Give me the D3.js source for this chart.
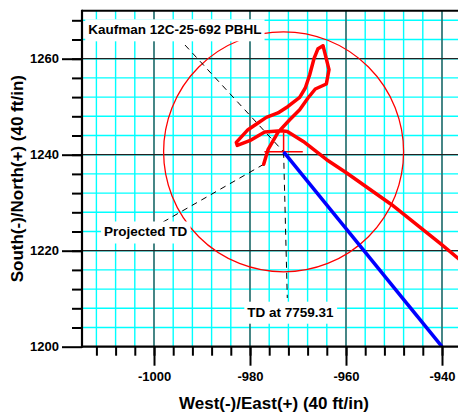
<!DOCTYPE html>
<html>
<head>
<meta charset="utf-8">
<script src="https://cdn.jsdelivr.net/npm/d3@7"></script>
<style>
  body { margin: 0; background: #fff; }
  svg { display: block; font-family: "Liberation Sans", Arial, sans-serif; font-weight: bold; }
</style>
</head>
<body>
<svg id="chart" width="458" height="415"></svg>
<script>
// 軸
var xMajorTicks = [-1000, -980, -960, -940];
var yMajorTicks = [1200, 1220, 1240, 1260];
var xTitle = "West(-)/East(+) (40 ft/in)";
var yTitle = "South(-)/North(+) (40 ft/in)";

// 実績 (赤)
var wellX = [-977.15, -976.25, -974.17, -971.73, -969.65, -967.92, -966.40, -964.10, -963.54, -964.79,
             -965.83, -966.67, -967.56, -968.48, -969.65, -972.08, -974.17, -976.60, -978.33, -980.42,
             -982.85, -982.65, -980.06, -976.94, -973.48, -972.23, -968.90, -964.02, -959.85, -950.48,
             -940.06, -935.80];
var wellY = [1238.00, 1241.04, 1244.65, 1247.29, 1249.38, 1251.81, 1253.69, 1254.73, 1257.71, 1262.71,
             1262.08, 1260.00, 1256.67, 1253.90, 1251.94, 1250.06, 1248.69, 1247.77, 1246.60, 1245.21,
             1242.56, 1241.94, 1242.92, 1244.73, 1245.00, 1244.85, 1242.77, 1238.96, 1236.19, 1229.58,
             1221.25, 1217.70];

// 計画 (青)
var planX = [-973.0, -940.0];
var planY = [1240.6, 1200.0];

// TD / PBHL
var tdPoint = [-973.0, 1240.6];
var pbhlRadius = 25;
var crossSize = 4;

// ラベル
var labelTexts = ["Kaufman 12C-25-692 PBHL", "Projected TD", "TD at 7759.31"];
var labelX = [-1013.7, -1010.4, -980.56];
var labelY = [1265.08, 1222.96, 1206.25];

// 引出線
var leaderX1 = [-993.54, -998.10, -973.0];
var leaderY1 = [1262.85, 1225.98, 1240.6];
var leaderX2 = [-973.0, -977.15, -972.23];
var leaderY2 = [1240.6, 1238.00, 1210.15];

var svg = d3.select("#chart");
var plotLeft = 82, plotTop = 10.7, plotBottom = 346.7, plotRight = 466;

var x = d3.scaleLinear().domain([-1015, -935]).range([plotLeft, plotRight]);
var y = d3.scaleLinear().domain([1200, 1270]).range([plotBottom, plotTop]);

var fmt = function(d){ return String(d); };

svg.append("defs").append("clipPath").attr("id", "plot-clip")
  .append("rect")
  .attr("x", plotLeft).attr("y", plotTop)
  .attr("width", plotRight - plotLeft).attr("height", plotBottom - plotTop);

var plot = svg.append("g").attr("clip-path", "url(#plot-clip)");

// グリッド
var xMinor = d3.range(-1012, -935, 4);
var yMinor = d3.range(1204, 1270, 4);

plot.selectAll(".vminor").data(xMinor).enter().append("line")
  .attr("x1", function(d){ return x(d); }).attr("x2", function(d){ return x(d); })
  .attr("y1", plotTop).attr("y2", plotBottom)
  .attr("stroke", "#00ffff").attr("stroke-width", 1.4);

plot.selectAll(".hminor").data(yMinor).enter().append("line")
  .attr("y1", function(d){ return y(d); }).attr("y2", function(d){ return y(d); })
  .attr("x1", plotLeft).attr("x2", plotRight)
  .attr("stroke", "#00ffff").attr("stroke-width", 1.4);

plot.selectAll(".vmajor").data(xMajorTicks).enter().append("line")
  .attr("x1", function(d){ return x(d); }).attr("x2", function(d){ return x(d); })
  .attr("y1", plotTop).attr("y2", plotBottom)
  .attr("stroke", "#444").attr("stroke-width", 1.3);

plot.selectAll(".hmajor").data(yMajorTicks).enter().append("line")
  .attr("y1", function(d){ return y(d); }).attr("y2", function(d){ return y(d); })
  .attr("x1", plotLeft).attr("x2", plotRight)
  .attr("stroke", "#222").attr("stroke-width", 1.3);

// PBHL 円
plot.append("ellipse")
  .attr("cx", x(tdPoint[0])).attr("cy", y(tdPoint[1]))
  .attr("rx", x(tdPoint[0] + pbhlRadius) - x(tdPoint[0]))
  .attr("ry", y(tdPoint[1]) - y(tdPoint[1] + pbhlRadius))
  .attr("fill", "none").attr("stroke", "#ff0000").attr("stroke-width", 1.3);

// 引出線
plot.selectAll(".leader").data(leaderX1).enter().append("line")
  .attr("x1", function(d){ return x(d); })
  .attr("y1", function(d, i){ return y(leaderY1[i]); })
  .attr("x2", function(d, i){ return x(leaderX2[i]); })
  .attr("y2", function(d, i){ return y(leaderY2[i]); })
  .attr("stroke", "#000").attr("stroke-width", 1)
  .attr("stroke-dasharray", "6 5");

// TD 十字
plot.append("line")
  .attr("x1", x(tdPoint[0] - crossSize)).attr("x2", x(tdPoint[0] + crossSize))
  .attr("y1", y(tdPoint[1])).attr("y2", y(tdPoint[1]))
  .attr("stroke", "#ff0000").attr("stroke-width", 1.5);
plot.append("line")
  .attr("x1", x(tdPoint[0])).attr("x2", x(tdPoint[0]))
  .attr("y1", y(tdPoint[1])).attr("y2", y(tdPoint[1] + crossSize))
  .attr("stroke", "#ff0000").attr("stroke-width", 1.5);

var line = d3.line()
  .x(function(d){ return x(d[0]); })
  .y(function(d){ return y(d[1]); });

plot.append("path")
  .attr("d", line(planX.map(function(v, i){ return [v, planY[i]]; })))
  .attr("fill", "none").attr("stroke", "#0000ff").attr("stroke-width", 3.5);

plot.append("path")
  .attr("d", line(wellX.map(function(v, i){ return [v, wellY[i]]; })))
  .attr("fill", "none").attr("stroke", "#ff0000").attr("stroke-width", 3.5)
  .attr("stroke-linejoin", "round").attr("stroke-linecap", "round");

// ラベル (白背景)
labelTexts.forEach(function(t, i){
  var lg = svg.append("g");
  var txt = lg.append("text")
    .attr("x", x(labelX[i])).attr("y", y(labelY[i]))
    .attr("font-size", 13.5).attr("fill", "#000")
    .text(t);
  var bb = txt.node().getBBox();
  lg.insert("rect", "text")
    .attr("x", bb.x - 3).attr("y", bb.y - 3)
    .attr("width", bb.width + 6).attr("height", bb.height + 7)
    .attr("fill", "#fff");
});

// 軸
function styleAxis(g){
  g.select(".domain").remove();
  g.selectAll(".tick line").attr("stroke", "#000").attr("stroke-width", 2);
  g.selectAll("text").attr("font-size", 13).attr("font-weight", "bold")
    .attr("font-family", "Liberation Sans, Arial, sans-serif").attr("fill", "#000");
}

svg.append("g").attr("transform", "translate(" + plotLeft + ",0)")
  .call(d3.axisLeft(y).tickValues(yMinor).tickSize(10).tickFormat(""))
  .call(styleAxis);
svg.append("g").attr("transform", "translate(" + plotLeft + ",0)")
  .call(d3.axisLeft(y).tickValues(yMajorTicks).tickSize(20).tickPadding(3).tickFormat(fmt))
  .call(styleAxis);

svg.append("g").attr("transform", "translate(0," + plotBottom + ")")
  .call(d3.axisBottom(x).tickValues(xMinor).tickSize(9).tickFormat(""))
  .call(styleAxis);
svg.append("g").attr("transform", "translate(0," + plotBottom + ")")
  .call(d3.axisBottom(x).tickValues(xMajorTicks).tickSize(19).tickPadding(6).tickFormat(fmt))
  .call(styleAxis);

// 枠線
svg.append("line").attr("x1", plotLeft).attr("x2", plotRight).attr("y1", plotTop).attr("y2", plotTop)
  .attr("stroke", "#000").attr("stroke-width", 2);
svg.append("line").attr("x1", plotLeft).attr("x2", plotLeft).attr("y1", plotTop - 1).attr("y2", plotBottom + 1)
  .attr("stroke", "#000").attr("stroke-width", 2.2);
svg.append("line").attr("x1", plotLeft - 1).attr("x2", plotRight).attr("y1", plotBottom).attr("y2", plotBottom)
  .attr("stroke", "#000").attr("stroke-width", 2.2);

// 軸タイトル
svg.append("text")
  .attr("x", (plotLeft + plotRight) / 2).attr("y", 409)
  .attr("text-anchor", "middle").attr("font-size", 17)
  .text(xTitle);

svg.append("text")
  .attr("transform", "translate(23," + ((plotTop + plotBottom) / 2) + ") rotate(-90)")
  .attr("text-anchor", "middle").attr("font-size", 17)
  .text(yTitle);
</script>
</body>
</html>
